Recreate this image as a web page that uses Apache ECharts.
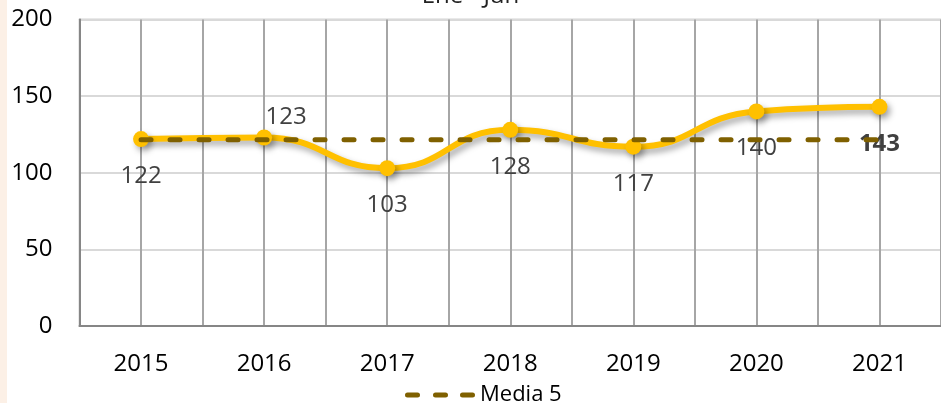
<!DOCTYPE html>
<html>
<head>
<meta charset="utf-8">
<script src="https://cdn.jsdelivr.net/npm/echarts@6/dist/echarts.min.js"></script>
<style>
  html, body { margin: 0; padding: 0; }
  body { background: linear-gradient(to right, #fcf0e6 0, #fcf0e6 7px, #ffffff 7px); }
  #chart { width: 941px; height: 403px; }
</style>
</head>
<body>
<div id="chart"></div>
<script>
// data
const years = ['2015', '2016', '2017', '2018', '2019', '2020', '2021'];
const valores = [122, 123, 103, 128, 117, 140, 143];
const media5 = [121.5, 121.5, 121.5, 121.5, 121.5, 121.5, 121.5];
const yTicks = [0, 50, 100, 150, 200];
const titulo = 'Ene - Jun';

const FONT = '"Open Sans", "Noto Sans", sans-serif';

// three rounded dashes for the legend icon
const dashIcon = 'path://M2.5,0H12.5A2.5,2.5 0 0 1 12.5,5H2.5A2.5,2.5 0 0 1 2.5,0Z' +
  'M30.5,0H40.5A2.5,2.5 0 0 1 40.5,5H30.5A2.5,2.5 0 0 1 30.5,0Z' +
  'M57.5,0H67.5A2.5,2.5 0 0 1 67.5,5H57.5A2.5,2.5 0 0 1 57.5,0Z';

// label tweaks per point (2016 sits above-right, 2021 is bold)
const serieData = valores.map((v, i) => {
  const item = { value: v };
  if (i === 1) {
    item.label = { position: 'top', distance: 0, offset: [22, 0] };
  }
  if (i === 6) {
    item.label = { fontWeight: 'bold' };
  }
  return item;
});

var chartDom = document.getElementById('chart');
var myChart = echarts.init(chartDom);
var option;

option = {
  animation: false,
  title: {
    text: titulo,
    left: 'center',
    top: -21,
    textStyle: { fontFamily: FONT, fontSize: 24, fontWeight: 'normal', color: '#222' }
  },
  legend: {
    data: [{ name: 'Media 5', icon: dashIcon, itemStyle: { color: '#7f6000' } }],
    left: 400,
    top: 379,
    itemWidth: 70,
    itemHeight: 5,
    itemGap: 10,
    textStyle: { fontFamily: FONT, fontSize: 22, color: '#000' }
  },
  grid: {
    left: 79.5,
    right: -1.5,
    top: 19.5,
    bottom: 77,
    show: true,
    borderColor: '#a6a6a6',
    borderWidth: 1.5,
    containLabel: false
  },
  xAxis: [
    {
      type: 'category',
      data: years,
      boundaryGap: true,
      axisLine: { lineStyle: { color: '#868686', width: 2 } },
      axisTick: { show: false },
      axisLabel: { fontFamily: FONT, fontSize: 24, color: '#000', margin: 26 },
      splitLine: { show: false }
    },
    {
      // only draws the vertical lines at category centres and edges
      type: 'value',
      position: 'bottom',
      min: 0,
      max: years.length * 2,
      interval: 1,
      axisLine: { show: false },
      axisTick: { show: false },
      axisLabel: { show: false },
      splitLine: { show: true, lineStyle: { color: '#a6a6a6', width: 2 } }
    }
  ],
  yAxis: {
    type: 'value',
    min: yTicks[0],
    max: yTicks[yTicks.length - 1],
    interval: yTicks[1] - yTicks[0],
    axisLine: { show: true, lineStyle: { color: '#868686', width: 2 } },
    axisTick: { show: false },
    axisLabel: { fontFamily: FONT, fontSize: 24, color: '#000', margin: 27 },
    splitLine: { lineStyle: { color: '#d9d9d9', width: 2 } }
  },
  series: [
    {
      name: 'Valores',
      type: 'line',
      xAxisIndex: 0,
      data: serieData,
      smooth: 0.5,
      symbol: 'circle',
      symbolSize: 16,
      z: 2,
      lineStyle: {
        color: '#ffc000',
        width: 6,
        shadowColor: 'rgba(0,0,0,0.35)',
        shadowBlur: 6,
        shadowOffsetX: 3,
        shadowOffsetY: 4
      },
      itemStyle: {
        color: '#ffc000',
        shadowColor: 'rgba(0,0,0,0.35)',
        shadowBlur: 6,
        shadowOffsetX: 3,
        shadowOffsetY: 4
      },
      label: {
        show: true,
        position: 'bottom',
        distance: 17,
        fontFamily: FONT,
        fontSize: 24,
        color: '#404040'
      }
    },
    {
      name: 'Media 5',
      type: 'line',
      xAxisIndex: 0,
      data: media5,
      symbol: 'none',
      z: 3,
      lineStyle: {
        color: '#7f6000',
        width: 5,
        type: [10, 19],
        cap: 'round'
      }
    }
  ]
};

option && myChart.setOption(option);
</script>
</body>
</html>
